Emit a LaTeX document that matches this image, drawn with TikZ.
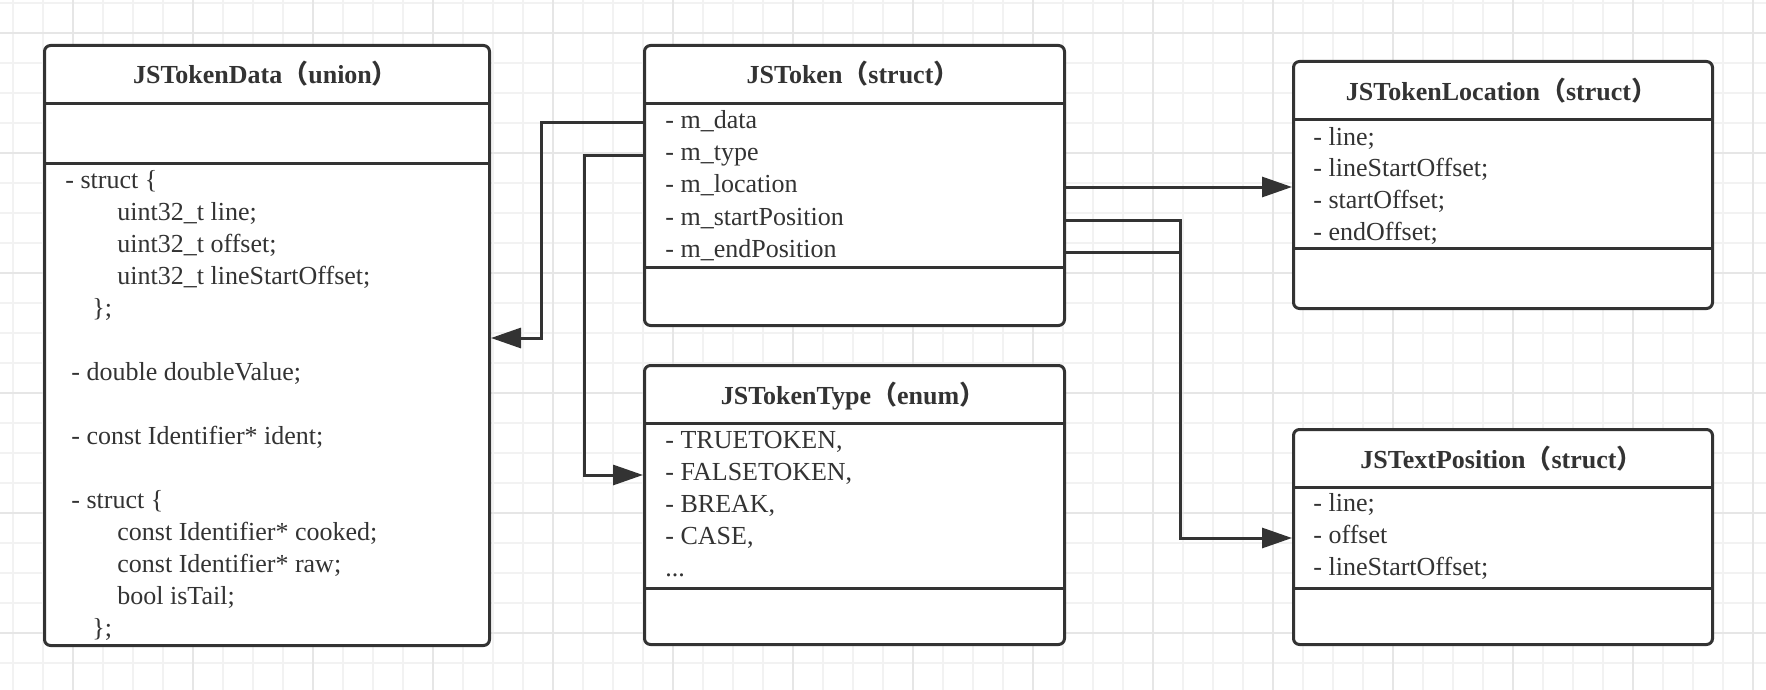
\documentclass[tikz,border=0pt]{standalone}
\usepackage{fontspec}
\setmainfont{Liberation Serif}
\newfontfamily\cjk{Noto Sans CJK SC}
\usepackage{tikz}
\usetikzlibrary{arrows.meta, positioning}

\definecolor{ink}{HTML}{333333}
\definecolor{gridlight}{HTML}{F2F2F2}
\definecolor{griddark}{HTML}{E6E6E6}

\tikzset{
  umlbox/.style={draw=ink, line width=1.5pt, rounded corners=3pt, fill=white,
    anchor=north west, inner sep=0pt},
  boxtitle/.style={font=\bfseries\fontsize{13}{15}\selectfont, text=ink, inner sep=0pt},
  attr/.style={anchor=west, text=ink, inner sep=0pt, text height=1.5ex, text depth=.25ex,
    yshift=-1.5pt},
  sepline/.style={draw=ink, line width=1.5pt},
  link/.style={draw=ink, line width=1.5pt},
  tip/.style={-{Triangle[length=15pt,width=10pt]}}
}

\begin{document}
\begin{tikzpicture}[x=0.5pt, y=-0.5pt, font=\fontsize{13}{15}\selectfont]
  \useasboundingbox (0,0) rectangle (1766,690);
  \fill[white] (0,0) rectangle (1766,690);

  % background grid
  \foreach \x in {13,43,...,1753}
    \draw[gridlight, line width=1pt] (\x,0) -- (\x,690);
  \foreach \y in {3,33,...,663}
    \draw[gridlight, line width=1pt] (0,\y) -- (1766,\y);
  \foreach \x in {73,193,...,1753}
    \draw[griddark, line width=1pt] (\x,0) -- (\x,690);
  \foreach \y in {33,153,...,633}
    \draw[griddark, line width=1pt] (0,\y) -- (1766,\y);

  % boxes
  \node[umlbox, minimum width=222.5pt, minimum height=300pt] (data) at (43,44) {};
  \node[umlbox, minimum width=210pt, minimum height=140pt] (tok) at (643,44) {};
  \node[umlbox, minimum width=210pt, minimum height=139.5pt] (enum) at (643,364) {};
  \node[umlbox, minimum width=209.5pt, minimum height=123.5pt] (loc) at (1292,60) {};
  \node[umlbox, minimum width=209.5pt, minimum height=107.5pt] (pos) at (1292,428) {};

  \draw[sepline] (data.west |- 0,103.5) -- (data.east |- 0,103.5);
  \draw[sepline] (data.west |- 0,163) -- (data.east |- 0,163);
  \draw[sepline] (tok.west |- 0,103.5) -- (tok.east |- 0,103.5);
  \draw[sepline] (tok.west |- 0,267) -- (tok.east |- 0,267);
  \draw[sepline] (enum.west |- 0,423) -- (enum.east |- 0,423);
  \draw[sepline] (enum.west |- 0,588) -- (enum.east |- 0,588);
  \draw[sepline] (loc.west |- 0,120) -- (loc.east |- 0,120);
  \draw[sepline] (loc.west |- 0,248) -- (loc.east |- 0,248);
  \draw[sepline] (pos.west |- 0,487) -- (pos.east |- 0,487);
  \draw[sepline] (pos.west |- 0,588) -- (pos.east |- 0,588);

  % titles
  \node[boxtitle] (data-title) at (265.5,74) {JSTokenData{\cjk （}union{\cjk ）}};
  \node[boxtitle] (tok-title) at (853,74) {JSToken{\cjk （}struct{\cjk ）}};
  \node[boxtitle] (enum-title) at (853,396) {JSTokenType{\cjk （}enum{\cjk ）}};
  \node[boxtitle] (loc-title) at (1501.5,91) {JSTokenLocation{\cjk （}struct{\cjk ）}};
  \node[boxtitle] (pos-title) at (1501.5,459) {JSTextPosition{\cjk （}struct{\cjk ）}};

  % JSTokenData
  \node[attr] (data-r1) at (65,180) {- struct \{};
  \node[attr] (data-r2) at (117,212) {uint32\_t line;};
  \node[attr] (data-r3) at (117,244) {uint32\_t offset;};
  \node[attr] (data-r4) at (117,276) {uint32\_t lineStartOffset;};
  \node[attr] (data-r5) at (92,308) {\};};
  \node[attr] (data-r6) at (71,372) {- double doubleValue;};
  \node[attr] (data-r7) at (71,436) {- const Identifier* ident;};
  \node[attr] (data-r8) at (71,500) {- struct \{};
  \node[attr] (data-r9) at (117,532) {const Identifier* cooked;};
  \node[attr] (data-r10) at (117,564) {const Identifier* raw;};
  \node[attr] (data-r11) at (117,596) {bool isTail;};
  \node[attr] (data-r12) at (92,628) {\};};

  % JSToken
  \node[attr] (tok-r1) at (665,120) {- m\_data};
  \node[attr] (tok-r2) at (665,152) {- m\_type};
  \node[attr] (tok-r3) at (665,184) {- m\_location};
  \node[attr] (tok-r4) at (665,217) {- m\_startPosition};
  \node[attr] (tok-r5) at (665,249) {- m\_endPosition};

  % JSTokenType
  \node[attr] (enum-r1) at (665,440) {- TRUETOKEN,};
  \node[attr] (enum-r2) at (665,472) {- FALSETOKEN,};
  \node[attr] (enum-r3) at (665,504) {- BREAK,};
  \node[attr] (enum-r4) at (665,536) {- CASE,};
  \node[attr] (enum-r5) at (665,568) {...};

  % JSTokenLocation
  \node[attr] (loc-r1) at (1313,137) {- line;};
  \node[attr] (loc-r2) at (1313,168) {- lineStartOffset;};
  \node[attr] (loc-r3) at (1313,200) {- startOffset;};
  \node[attr] (loc-r4) at (1313,232) {- endOffset;};

  % JSTextPosition
  \node[attr] (pos-r1) at (1313,503) {- line;};
  \node[attr] (pos-r2) at (1313,535) {- offset};
  \node[attr] (pos-r3) at (1313,567) {- lineStartOffset;};

  % connectors
  \draw[link, tip] (tok.west |- tok-r1) -- ++(-102,0) |- (data.east |- 0,338);
  \draw[link, tip] (tok.west |- tok-r2) -- ++(-59,0) |- (enum.west |- enum-r2);
  \draw[link, tip] (tok.east |- tok-r3) -- (loc.west |- tok-r3);
  \draw[link, tip] (tok.east |- tok-r4) -- ++(114,0) |- (pos.west |- pos-r2);
  \draw[link] (tok.east |- tok-r5) -- ++(114,0);
\end{tikzpicture}
\end{document}
